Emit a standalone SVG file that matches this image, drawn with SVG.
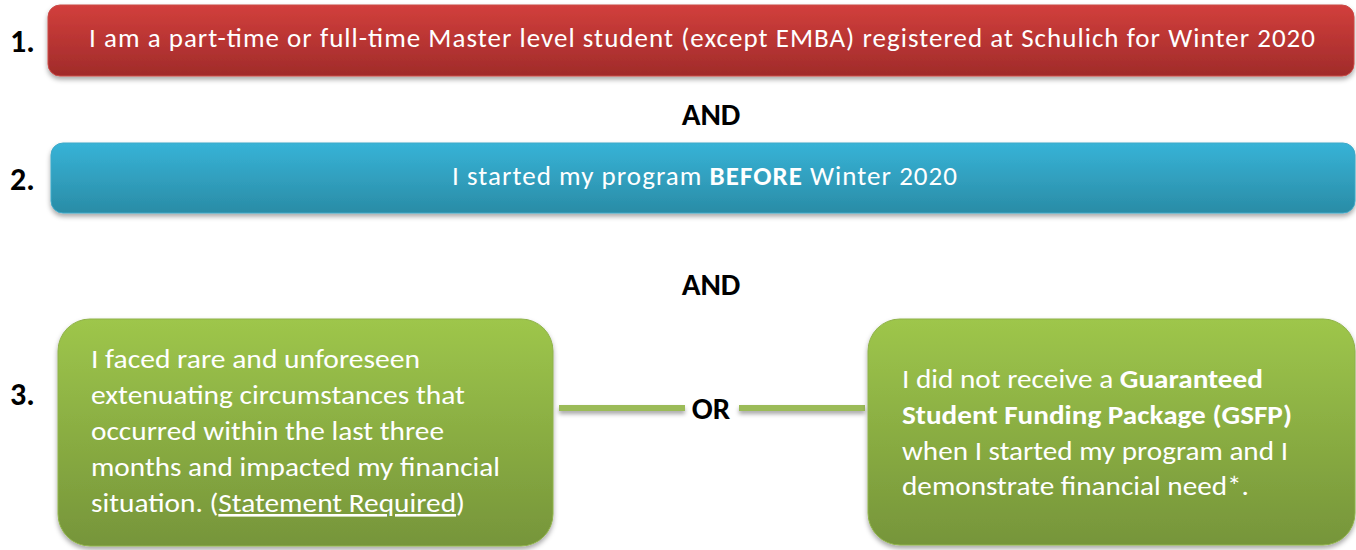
<svg xmlns="http://www.w3.org/2000/svg" width="1356" height="550" viewBox="0 0 1356 550">
  <style>
    .t { font-family: Carlito, Lato, "Open Sans", "Liberation Sans", sans-serif; }
    .w { fill: #ffffff; }
    .k { fill: #000000; font-weight: bold; }
    .b { font-weight: bold; }
    .bar { font-size: 27px; }
    .body { font-size: 26px; }
    .num { font-size: 32px; }
    .lbl { font-size: 31px; text-anchor: middle; }
    .conn { stroke: #9bbb59; stroke-width: 6; fill: none; }
  </style>
  <defs>
    <linearGradient id="gRed" x1="0" y1="0" x2="0" y2="1">
      <stop offset="0" stop-color="#d23f3c"/>
      <stop offset="1" stop-color="#a02b2a"/>
    </linearGradient>
    <linearGradient id="gBlue" x1="0" y1="0" x2="0" y2="1">
      <stop offset="0" stop-color="#37b3d7"/>
      <stop offset="1" stop-color="#2a8ca6"/>
    </linearGradient>
    <linearGradient id="gGreen" x1="0" y1="0" x2="0" y2="1">
      <stop offset="0" stop-color="#9ec64b"/>
      <stop offset="1" stop-color="#76953a"/>
    </linearGradient>
    <filter id="sh" x="-5%" y="-20%" width="110%" height="150%">
      <feDropShadow dx="0" dy="3" stdDeviation="2.5" flood-color="#000" flood-opacity="0.35"/>
    </filter>
    <filter id="shL" filterUnits="userSpaceOnUse" x="0" y="380" width="1356" height="60">
      <feDropShadow dx="0" dy="3" stdDeviation="2" flood-color="#000" flood-opacity="0.35"/>
    </filter>
  </defs>

  <g id="connectors" filter="url(#shL)">
    <line class="conn" x1="559" y1="408" x2="685" y2="408"/>
    <line class="conn" x1="739" y1="408" x2="865" y2="408"/>
  </g>

  <g id="labels">
    <text class="t k num" x="10" y="52">1.</text>
    <text class="t k num" x="10" y="190">2.</text>
    <text class="t k num" x="10" y="405">3.</text>
    <text class="t k lbl" x="711" y="125">AND</text>
    <text class="t k lbl" x="711" y="295">AND</text>
    <text class="t k lbl" x="711" y="419" style="font-size:31px">OR</text>
  </g>

  <g id="node1">
    <rect x="48" y="5" width="1306" height="71" rx="12" fill="url(#gRed)" stroke="#c94a47" stroke-width="1" filter="url(#sh)"/>
    <text class="t w bar" x="89" y="47" textLength="1226" lengthAdjust="spacing">I am a part-time or full-time Master level student (except EMBA) registered at Schulich for Winter 2020</text>
  </g>

  <g id="node2">
    <rect x="51" y="143" width="1304" height="70" rx="12" fill="url(#gBlue)" stroke="#3fa9c8" stroke-width="1" filter="url(#sh)"/>
    <text class="t w bar" x="452" y="185" textLength="505" lengthAdjust="spacing">I started my program <tspan class="b">BEFORE</tspan> Winter 2020</text>
  </g>

  <g id="node3a">
    <rect x="58" y="319" width="495" height="227" rx="32" fill="url(#gGreen)" stroke="#8fb24a" stroke-width="1" filter="url(#sh)"/>
    <text class="t w body" x="91" y="368" textLength="329" lengthAdjust="spacingAndGlyphs">I faced rare and unforeseen</text>
    <text class="t w body" x="91" y="404" textLength="374" lengthAdjust="spacingAndGlyphs">extenuating circumstances that</text>
    <text class="t w body" x="91" y="440" textLength="353" lengthAdjust="spacingAndGlyphs">occurred within the last three</text>
    <text class="t w body" x="91" y="476" textLength="409" lengthAdjust="spacingAndGlyphs">months and impacted my financial</text>
    <text class="t w body" x="91" y="512" textLength="374" lengthAdjust="spacingAndGlyphs">situation. (<tspan text-decoration="underline">Statement Required</tspan>)</text>
  </g>

  <g id="node3b">
    <rect x="868" y="319" width="487" height="226" rx="32" fill="url(#gGreen)" stroke="#8fb24a" stroke-width="1" filter="url(#sh)"/>
    <text class="t w body" x="902" y="388" textLength="361" lengthAdjust="spacingAndGlyphs">I did not receive a <tspan class="b">Guaranteed</tspan></text>
    <text class="t w body b" x="902" y="424" textLength="390" lengthAdjust="spacingAndGlyphs">Student Funding Package (GSFP)</text>
    <text class="t w body" x="902" y="460" textLength="386" lengthAdjust="spacingAndGlyphs">when I started my program and I</text>
    <text class="t w body" x="902" y="495" textLength="347" lengthAdjust="spacingAndGlyphs">demonstrate financial need*.</text>
  </g>
</svg>
